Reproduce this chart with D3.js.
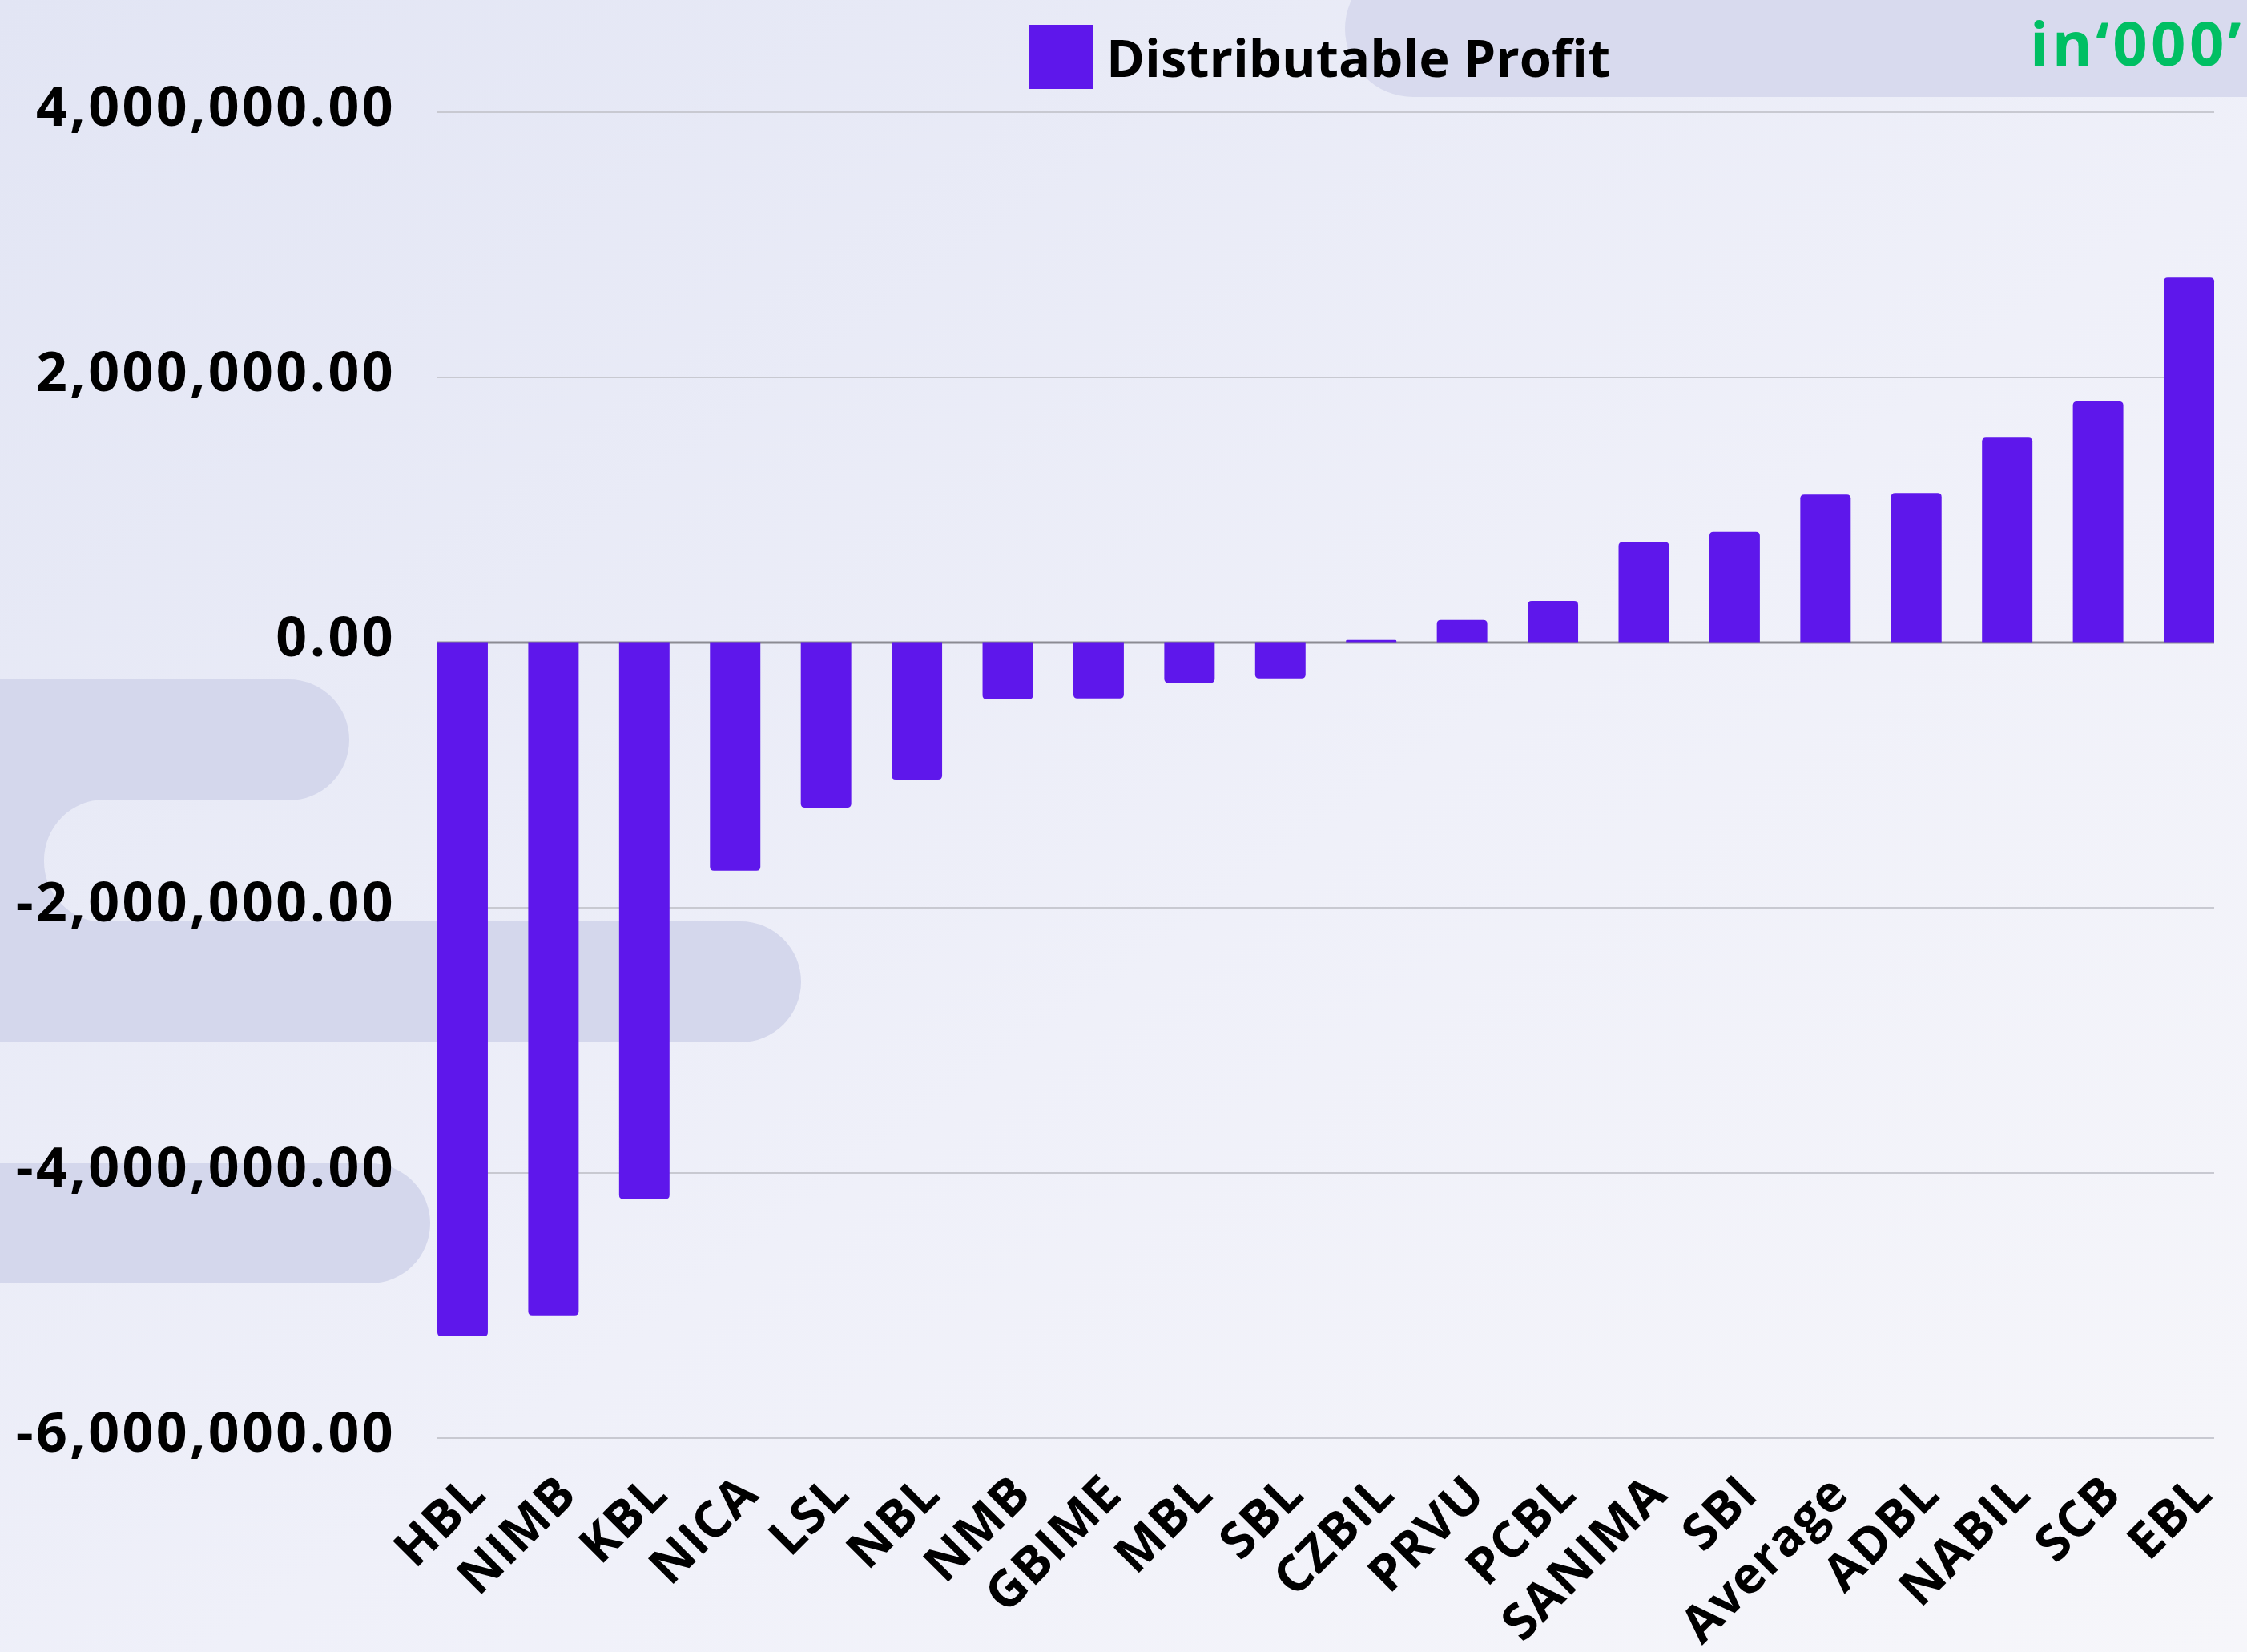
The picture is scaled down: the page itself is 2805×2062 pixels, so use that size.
<!DOCTYPE html>
<html>
<head>
<meta charset="utf-8">
<script src="https://cdn.jsdelivr.net/npm/d3@7"></script>
<style>
  html, body { margin: 0; padding: 0; }
  body { width: 2805px; height: 2062px; overflow: hidden; }
  svg text { font-family: "Open Sans", "Noto Sans", sans-serif; font-weight: 700; }
</style>
</head>
<body>
<svg id="chart" width="2805" height="2062"></svg>
<script>
// bank tickers, in the order they are drawn
const categories = ['HBL', 'NIMB', 'KBL', 'NICA', 'LSL', 'NBL', 'NMB', 'GBIME', 'MBL', 'SBL',
  'CZBIL', 'PRVU', 'PCBL', 'SANIMA', 'SBI', 'Average', 'ADBL', 'NABIL', 'SCB', 'EBL'];

// distributable profit, in '000
const profit = [-5236000, -5077000, -4200000, -1724000, -1247000, -1037000, -430000, -424000,
  -307000, -273000, 17000, 168000, 311000, 756000, 832000, 1114000, 1126000, 1543000, 1815000, 2751000];

const yTicks = [-6000000, -4000000, -2000000, 0, 2000000, 4000000];
const seriesName = 'Distributable Profit';
const unitNote = 'in\u2018000\u2019';

const W = 2805, H = 2062;
const barColor = '#5e17eb';
const shapeColor = '#d4d7ec';

let svg = d3.select('#chart');

// background gradient
let defs = svg.append('defs');
let grad = defs.append('linearGradient')
  .attr('id', 'bg')
  .attr('x1', '0').attr('y1', '0')
  .attr('x2', '1').attr('y2', '1');
grad.append('stop').attr('offset', '0%').attr('stop-color', '#e2e5f4');
grad.append('stop').attr('offset', '55%').attr('stop-color', '#eff0f9');
grad.append('stop').attr('offset', '100%').attr('stop-color', '#f6f6fa');

svg.append('rect')
  .attr('width', W).attr('height', H)
  .attr('fill', 'url(#bg)');

// decorative pills
let deco = svg.append('g').attr('fill', shapeColor);
deco.append('rect').attr('x', 1679).attr('y', -49).attr('width', 1300).attr('height', 170).attr('rx', 85).attr('fill', '#d8daee');
deco.append('rect').attr('x', -200).attr('y', 848).attr('width', 636).attr('height', 151).attr('rx', 75.5);
deco.append('path').attr('d', 'M0,998 L130,998 A75.5,75.5 0 0 0 55,1074.5 A75.5,75.5 0 0 0 130,1151 L0,1151 Z');
deco.append('rect').attr('x', -200).attr('y', 1150).attr('width', 1200).attr('height', 151).attr('rx', 75.5);
deco.append('rect').attr('x', -200).attr('y', 1452).attr('width', 737).attr('height', 150).attr('rx', 75);

// scales
let x = d3.scaleBand()
  .domain(categories)
  .range([546, 2764])
  .paddingInner(0.445)
  .paddingOuter(0);

let y = d3.scaleLinear()
  .domain([-6000000, 4000000])
  .range([1794.5, 139.5]);

// plain hyphen for negatives, like the original
let fmt = d3.formatLocale({ decimal: '.', thousands: ',', grouping: [3], currency: ['', ''], minus: '-' })
  .format(',.2f');

// y axis with gridlines
let yAxis = d3.axisLeft(y)
  .tickValues(yTicks)
  .tickFormat(fmt)
  .tickSize(-(2764 - 546))
  .tickPadding(52);

let gy = svg.append('g')
  .attr('transform', 'translate(546,0)')
  .call(yAxis);
gy.select('.domain').remove();
gy.selectAll('.tick line')
  .attr('stroke', d => d === 0 ? '#8b8b93' : '#c8c9d1')
  .attr('stroke-width', d => d === 0 ? 3 : 2.2);
gy.selectAll('.tick text')
  .attr('fill', '#000')
  .attr('font-size', 68)
  .attr('letter-spacing', 3.4)
  .attr('dy', '0.25em');

// bars, rounded on the end away from zero
function barPath(d, i) {
  let x0 = x(categories[i]);
  let w = x.bandwidth();
  let y0 = y(0);
  let y1 = y(d);
  let r = Math.min(5, Math.abs(y1 - y0) / 2);
  if (d >= 0) {
    return `M${x0},${y0}V${y1 + r}Q${x0},${y1} ${x0 + r},${y1}H${x0 + w - r}Q${x0 + w},${y1} ${x0 + w},${y1 + r}V${y0}Z`;
  }
  return `M${x0},${y0}V${y1 - r}Q${x0},${y1} ${x0 + r},${y1}H${x0 + w - r}Q${x0 + w},${y1} ${x0 + w},${y1 - r}V${y0}Z`;
}

svg.append('g')
  .selectAll('path')
  .data(profit)
  .join('path')
    .attr('d', barPath)
    .attr('fill', barColor);

// x labels, rotated
let xAxis = d3.axisBottom(x).tickSize(0).tickPadding(0);
let gx = svg.append('g')
  .attr('transform', 'translate(0,1868)')
  .call(xAxis);
gx.select('.domain').remove();
gx.selectAll('.tick text')
  .attr('fill', '#000')
  .attr('font-size', 63)
  .attr('letter-spacing', 1)
  .attr('text-anchor', 'end')
  .attr('dy', 0)
  .attr('y', 0)
  .attr('transform', 'translate(32,0) rotate(-45)');

// legend
let legend = svg.append('g');
legend.append('rect')
  .attr('x', 1284).attr('y', 31)
  .attr('width', 80).attr('height', 80)
  .attr('fill', barColor);
legend.append('text')
  .attr('x', 1381).attr('y', 96)
  .attr('font-size', 65)
  .attr('fill', '#000')
  .text(seriesName);

svg.append('text')
  .attr('x', 2802).attr('y', 82)
  .attr('text-anchor', 'end')
  .attr('font-size', 76)
  .attr('letter-spacing', 4.5)
  .attr('fill', '#00bf63')
  .text(unitNote);
</script>
</body>
</html>
